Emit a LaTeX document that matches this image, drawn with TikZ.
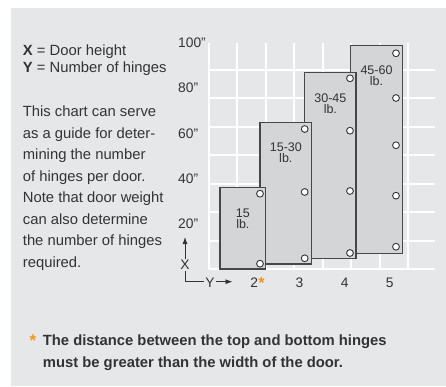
\documentclass[tikz,border=0pt]{standalone}
\usepackage{fontspec}
\setmainfont{Liberation Sans}
\usepackage{xcolor}
\usetikzlibrary{arrows.meta,positioning}
\definecolor{panel}{RGB}{230,231,232}
\definecolor{doorfill}{RGB}{212,213,214}
\definecolor{ink}{RGB}{51,51,51}
\definecolor{starorange}{RGB}{247,148,29}
\newcommand{\orstar}{\textcolor{starorange}{\bfseries *}}

\begin{document}
\begin{tikzpicture}[x=1pt, y=-1pt,
  txt/.style={font=\fontsize{14.8}{21.5}\selectfont, text=ink, inner sep=0pt, anchor=base west, align=left},
  axlab/.style={font=\fontsize{13.8}{14}\selectfont, text=ink, inner sep=0pt},
  doorlab/.style={font=\fontsize{12.5}{11.5}\selectfont, text=ink, inner sep=0pt, align=center},
  door/.style={draw=black!72, fill=doorfill, line width=1.1pt},
  hinge/.style={draw=black!80, fill=white, line width=0.9pt},
  gridline/.style={white, line width=2pt},
  axarr/.style={draw=ink, line width=0.8pt, -{Latex[length=7pt, width=5pt]}}]
  \useasboundingbox (0,0) rectangle (446,387);
  \fill[panel] (11,8) rectangle (446,386);
  % key and note (base = last line)
  \node[txt] (keyx) at (22.7,55.5) {\textbf{X} = Door height};
  \node[txt] (keyy) at (22.7,72.2) {\textbf{Y} = Number of hinges};
  \node[txt] (note) at (22.7,267.3) {This chart can serve\\as a guide for deter-\\mining the number\\of hinges per door.\\Note that door weight\\can also determine\\the number of hinges\\required.};
  % footnote
  \node[txt, font=\fontsize{14.8}{22}\selectfont\bfseries] (foot) at (42.7,367.3) {The distance between the top and bottom hinges\\must be greater than the width of the door.};
  \node[txt, anchor=base, font=\fontsize{17}{17}\selectfont] (footstar) at (33,346) {\orstar};
  % chart, one unit = one grid cell
  \begin{scope}[shift={(209,269)}, x=45.2pt, y=45.2pt]
    \draw[gridline] (0,0) grid (5,5);
    \foreach \v/\lab in {1/20,2/40,3/60,4/80,5/100}
      \node[axlab, anchor=west] (ht\lab) at (-0.686,\v) {\lab"};
    \node[axlab] (n2) at (1,-0.31) {2};
    \node[axlab, anchor=west, font=\fontsize{16}{16}\selectfont] (n2star) at (n2.east) {\orstar};
    \foreach \c in {3,4,5}
      \node[axlab] (n\c) at (\c-1,-0.31) {\c};
    % 45-60 lb.
    \draw[door] (3.13,0.347) rectangle (4.277,4.94);
    \node[doorlab] (d4) at (3.706,4.28) {45-60\\lb.};
    \foreach \h in {0.493,1.622,2.737,3.783,4.772}
      \draw[hinge] (4.137,\h) circle[radius=3.4pt];
    % 30-45 lb.
    \draw[door] (2.117,0.228) rectangle (3.252,4.343);
    \node[doorlab] (d3) at (2.685,3.655) {30-45\\lb.};
    \foreach \h in {0.354,1.726,3.06,4.219}
      \draw[hinge] (3.119,\h) circle[radius=3.4pt];
    % 15-30 lb.
    \draw[door] (1.128,0.111) rectangle (2.272,3.237);
    \node[doorlab] (d2) at (1.7,2.577) {15-30\\lb.};
    \foreach \h in {0.237,1.704,3.097}
      \draw[hinge] (2.117,\h) circle[radius=3.4pt];
    % 15 lb.
    \draw[door] (0.243,0) rectangle (1.254,1.807);
    \node[doorlab] (d1) at (0.749,1.106) {15\\lb.};
    \foreach \h in {0.117,1.666}
      \draw[hinge] (1.128,\h) circle[radius=3.4pt];
  \end{scope}
  % axis key
  \coordinate (corner) at (185,281.7);
  \coordinate (xtip) at (185,237);
  \coordinate (ytip) at (232.5,281.7);
  \node[axlab, inner sep=1.5pt] (xlab) at (185,265) {X};
  \node[axlab, inner sep=1.5pt] (ylab) at (210,283) {Y};
  \draw[draw=ink, line width=0.8pt] (xlab.south) -- (corner) -- (ylab.west |- corner);
  \draw[axarr] (xlab) -- (xtip);
  \draw[axarr] (ylab.east |- corner) -- (ytip);
\end{tikzpicture}
\end{document}
